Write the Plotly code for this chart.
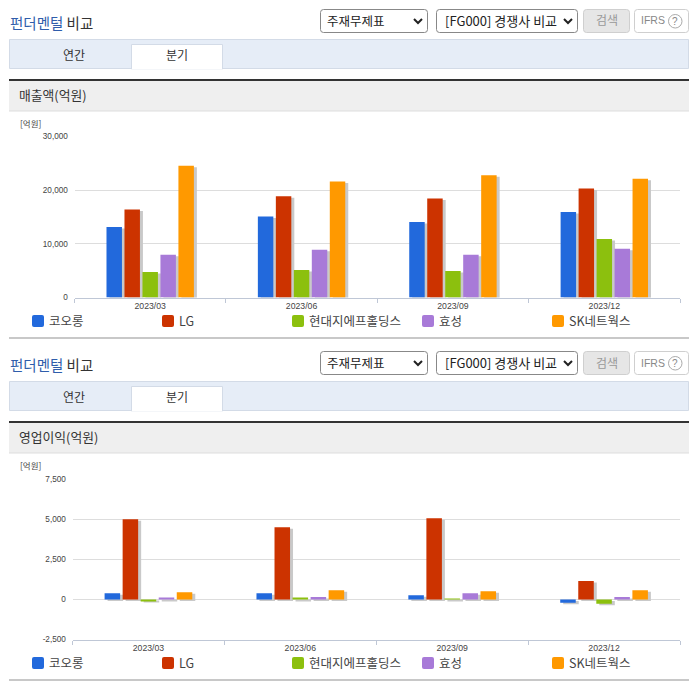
import plotly.graph_objects as go

W, H = 696, 684
quarters = ["2023/03", "2023/06", "2023/09", "2023/12"]
series_names = ["코오롱", "LG", "현대지에프홀딩스", "효성", "SK네트웍스"]
series_colors = ["#2269dc", "#cc3300", "#8cc00e", "#a87ad8", "#ff9900"]

sales_kolon = [13150, 15080, 14080, 15950]
sales_lg = [16400, 18850, 18430, 20300]
sales_hd = [4735, 5110, 4920, 10900]
sales_hyosung = [7950, 8900, 7950, 9080]
sales_sk = [24540, 21600, 22780, 22150]
sales_ticks = [0, 10000, 20000, 30000]
sales_tick_labels = ["0", "10,000", "20,000", "30,000"]

op_kolon = [395, 395, 270, -200]
op_lg = [5020, 4520, 5080, 1150]
op_hd = [-100, 90, 40, -260]
op_hyosung = [90, 150, 395, 150]
op_sk = [460, 580, 520, 580]
op_ticks = [-2500, 0, 2500, 5000, 7500]
op_tick_labels = ["-2,500", "0", "2,500", "5,000", "7,500"]

sales = [sales_kolon, sales_lg, sales_hd, sales_hyosung, sales_sk]
ops = [op_kolon, op_lg, op_hd, op_hyosung, op_sk]

KR = "Noto Sans CJK KR"
LAT = "Liberation Sans"
px = lambda x: x / W
py = lambda y: 1 - y / H

fig = go.Figure()
shapes, notes = [], []


def rect(x0, y0, x1, y1, fill, line=None, lw=1, layer="below"):
    shapes.append(dict(type="rect", xref="paper", yref="paper", x0=px(x0), x1=px(x1), y0=py(y0), y1=py(y1),
                       fillcolor=fill, line=dict(color=line or "rgba(0,0,0,0)", width=lw if line else 0), layer=layer))


def rrect(x0, y0, x1, y1, r, fill, line=None, lw=1):
    p = (f"M{px(x0+r)},{py(y0)} L{px(x1-r)},{py(y0)} Q{px(x1)},{py(y0)} {px(x1)},{py(y0+r)} "
         f"L{px(x1)},{py(y1-r)} Q{px(x1)},{py(y1)} {px(x1-r)},{py(y1)} L{px(x0+r)},{py(y1)} "
         f"Q{px(x0)},{py(y1)} {px(x0)},{py(y1-r)} L{px(x0)},{py(y0+r)} Q{px(x0)},{py(y0)} {px(x0+r)},{py(y0)} Z")
    shapes.append(dict(type="path", xref="paper", yref="paper", path=p, fillcolor=fill,
                       line=dict(color=line or "rgba(0,0,0,0)", width=lw if line else 0), layer="below"))


def text(x, y, s, size=12, color="#333", anchor="left", family=KR):
    notes.append(dict(xref="paper", yref="paper", x=px(x), y=py(y), text=s, showarrow=False, xanchor=anchor,
                      yanchor="middle", align=anchor, borderpad=0, font=dict(size=size, color=color, family=family)))


def chevron(cx, cy):
    p = f"M{px(cx-4)},{py(cy-2)} L{px(cx)},{py(cy+2)} L{px(cx+4)},{py(cy-2)}"
    shapes.append(dict(type="path", xref="paper", yref="paper", path=p, line=dict(color="#222", width=2), layer="above"))


def panel(dy, heading, unit="[억원]"):
    text(9, 23 + dy, '<span style="color:#2f5dab">펀더멘털</span> 비교', 14.5, "#333")
    rrect(320.5, 9.5 + dy, 427.5, 32.5 + dy, 3, "#fff", "#888")
    text(326, 20.5 + dy, "주재무제표", 12.5, "#222")
    chevron(418, 21 + dy)
    rrect(436.5, 9.5 + dy, 577.5, 32.5 + dy, 3, "#fff", "#888")
    text(444, 20.5 + dy, "[FG000] 경쟁사 비교", 13, "#222")
    chevron(568, 21 + dy)
    rrect(583.5, 9.5 + dy, 629.5, 32.5 + dy, 3, "#e6e6e6", "#cfcfcf")
    text(606.5, 20 + dy, "검색", 12, "#999", "center")
    rrect(634.5, 9.5 + dy, 688.5, 32.5 + dy, 3, "#fff", "#cfcfcf")
    text(640, 20.5 + dy, "IFRS", 10.5, "#888", family=LAT)
    shapes.append(dict(type="circle", xref="paper", yref="paper", x0=px(668.5), x1=px(682), y0=py(14.5 + dy), y1=py(28 + dy),
                       line=dict(color="#aaa", width=1), layer="below"))
    text(675.2, 21.5 + dy, "?", 10, "#888", "center", LAT)
    rect(9.5, 39.5 + dy, 688.5, 68.5 + dy, "#e6edf7", "#d3dbe7")
    rect(131.5, 44.5 + dy, 222.5, 69 + dy, "#fff", "#d3dbe7")
    rect(132, 66 + dy, 222, 69.5 + dy, "#fff")
    text(74, 54.5 + dy, "연간", 12, "#333", "center")
    text(177, 54.5 + dy, "분기", 12, "#333", "center")
    rect(9, 79 + dy, 689, 81 + dy, "#333333")
    rect(9, 81 + dy, 689, 111 + dy, "#efefef")
    rect(9, 110.5 + dy, 689, 111.5 + dy, "#dddddd")
    text(18, 95 + dy, heading, 12.8, "#333")
    text(19, 123 + dy, unit, 8.5, "#444")
    for i, name in enumerate(series_names):
        x0 = 32 + 130 * i
        rrect(x0, 315 + dy, x0 + 12, 327 + dy, 2, series_colors[i])
        text(x0 + 16, 320 + dy, name, 12.5, "#444")
    rect(9, 337 + dy, 689, 339 + dy, "#c8c8c8")


panel(0, "매출액(억원)")
panel(342, "영업이익(억원)")


def chart(values, base_x, base_y, main_x, main_y, x0, x1, y_top, y_bot, yrange, ytick, ylabels):
    for vals, color, name in zip(values, series_colors, series_names):
        fig.add_trace(go.Bar(x=quarters, y=vals, xaxis=base_x, yaxis=base_y, marker=dict(color="#c9c9c9", line_width=0),
                             showlegend=False, hoverinfo="skip", name=name + " shadow"))
    for vals, color, name in zip(values, series_colors, series_names):
        fig.add_trace(go.Bar(x=quarters, y=vals, xaxis=main_x, yaxis=main_y, marker=dict(color=color, line_width=0),
                             showlegend=False, name=name))
    dx = 3 / ((x1 - x0) / 4)
    dyv = 1.5 * (yrange[1] - yrange[0]) / (y_bot - y_top)
    bn_x = "xaxis" + base_x[1:]
    bn_y = "yaxis" + base_y[1:]
    mn_x = "xaxis" + main_x[1:]
    mn_y = "yaxis" + main_y[1:]
    xdom = [px(x0), px(x1)]
    ydom = [py(y_bot), py(y_top)]
    fig.update_layout(**{
        bn_x: dict(domain=xdom, range=[-0.5 - dx, 3.5 - dx], visible=False, anchor=base_y, type="category",
                   categoryorder="array", categoryarray=quarters),
        bn_y: dict(domain=ydom, range=[yrange[0] + dyv, yrange[1] + dyv], visible=False, anchor=base_x),
        mn_x: dict(range=[-0.5, 3.5], overlaying=base_x, anchor=main_y, type="category", categoryorder="array",
                   categoryarray=quarters, tickson="boundaries", ticks="outside", ticklen=4, tickcolor="#bfc7d6",
                   showline=True, linecolor="#bfc7d6", linewidth=1, showgrid=False, zeroline=False,
                   tickfont=dict(size=8.7, color="#444", family=LAT), side="bottom"),
        mn_y: dict(range=yrange, overlaying=base_y, anchor=main_x, tickvals=ytick, ticktext=ylabels, showgrid=True,
                   gridcolor="#dddddd", gridwidth=1, zeroline=False, showline=False, ticks="outside", ticklen=4,
                   tickcolor="rgba(0,0,0,0)", tickfont=dict(size=8.2, color="#444", family=LAT)),
    })


chart(sales, "x", "y", "x2", "y2", 74.5, 680, 136.5, 297.5, [0, 30000], sales_ticks, sales_tick_labels)
chart(ops, "x3", "y3", "x4", "y4", 72.5, 680, 479.5, 639.5, [-2500, 7500], op_ticks, op_tick_labels)

fig.update_layout(width=W, height=H, margin=dict(l=0, r=0, t=0, b=0, autoexpand=False), autosize=False, paper_bgcolor="#fff",
                  plot_bgcolor="rgba(0,0,0,0)", barmode="group", bargap=0.406, bargroupgap=0.14,
                  shapes=shapes, annotations=notes, showlegend=False)
fig.write_html("out.html", post_script="document.body.style.margin='0';", config=dict(displayModeBar=False))
